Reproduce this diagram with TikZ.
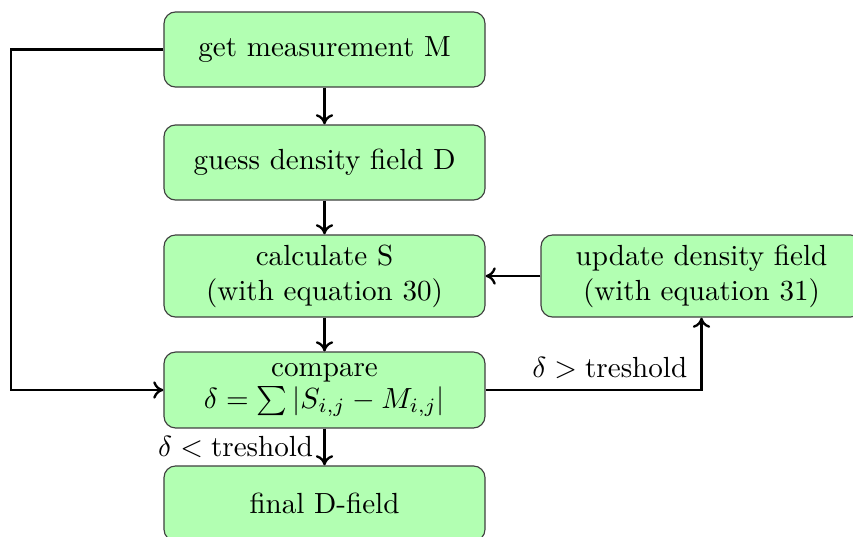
\documentclass[tikz,border=0pt]{standalone}
\usetikzlibrary{arrows.meta}
\begin{document}
\begin{tikzpicture}[x=0.3436pt,y=-0.3436pt,
  box/.style={draw=black!75, fill=green!30, rounded corners=4pt, align=center,
    minimum width=110.3pt, minimum height=25.8pt, inner sep=2pt},
  conn/.style={line width=0.8pt, -{To[length=3.5pt,width=6pt]}}]
\useasboundingbox (0,0) rectangle (853,536);
\node[box] (n1) at (324.5,49.5) {get measurement M};
\node[box] (n2) at (324.5,162.5) {guess density field D};
\node[box, minimum height=28.2pt] (n3) at (324.5,276) {calculate S\\(with equation 30)};
\node[box, minimum height=26.1pt] (n4) at (324.5,390) {compare\\[-1pt]$\delta=\sum|S_{i,j}-M_{i,j}|$};
\node[box] (n5) at (324.5,503.5) {final D-field};
\node[box, minimum height=28.2pt] (up) at (701.5,276) {update density field\\(with equation 31)};
\coordinate (lc) at (11,49.5);
\draw[conn] (n1) -- (n2);
\draw[conn] (n2) -- (n3);
\draw[conn] (n3) -- (n4);
\draw[conn] (n4) -- node[left, inner sep=3.5pt] {$\delta<{}$treshold} (n5);
\draw[conn] (up) -- (n3);
\draw[conn] (n1.west) -- (lc) |- (n4.west);
\draw[conn] (n4.east) -| node[pos=0.5, above left, inner sep=3.5pt, xshift=-1pt] {$\delta>{}$treshold} (up.south);
\end{tikzpicture}
\end{document}
